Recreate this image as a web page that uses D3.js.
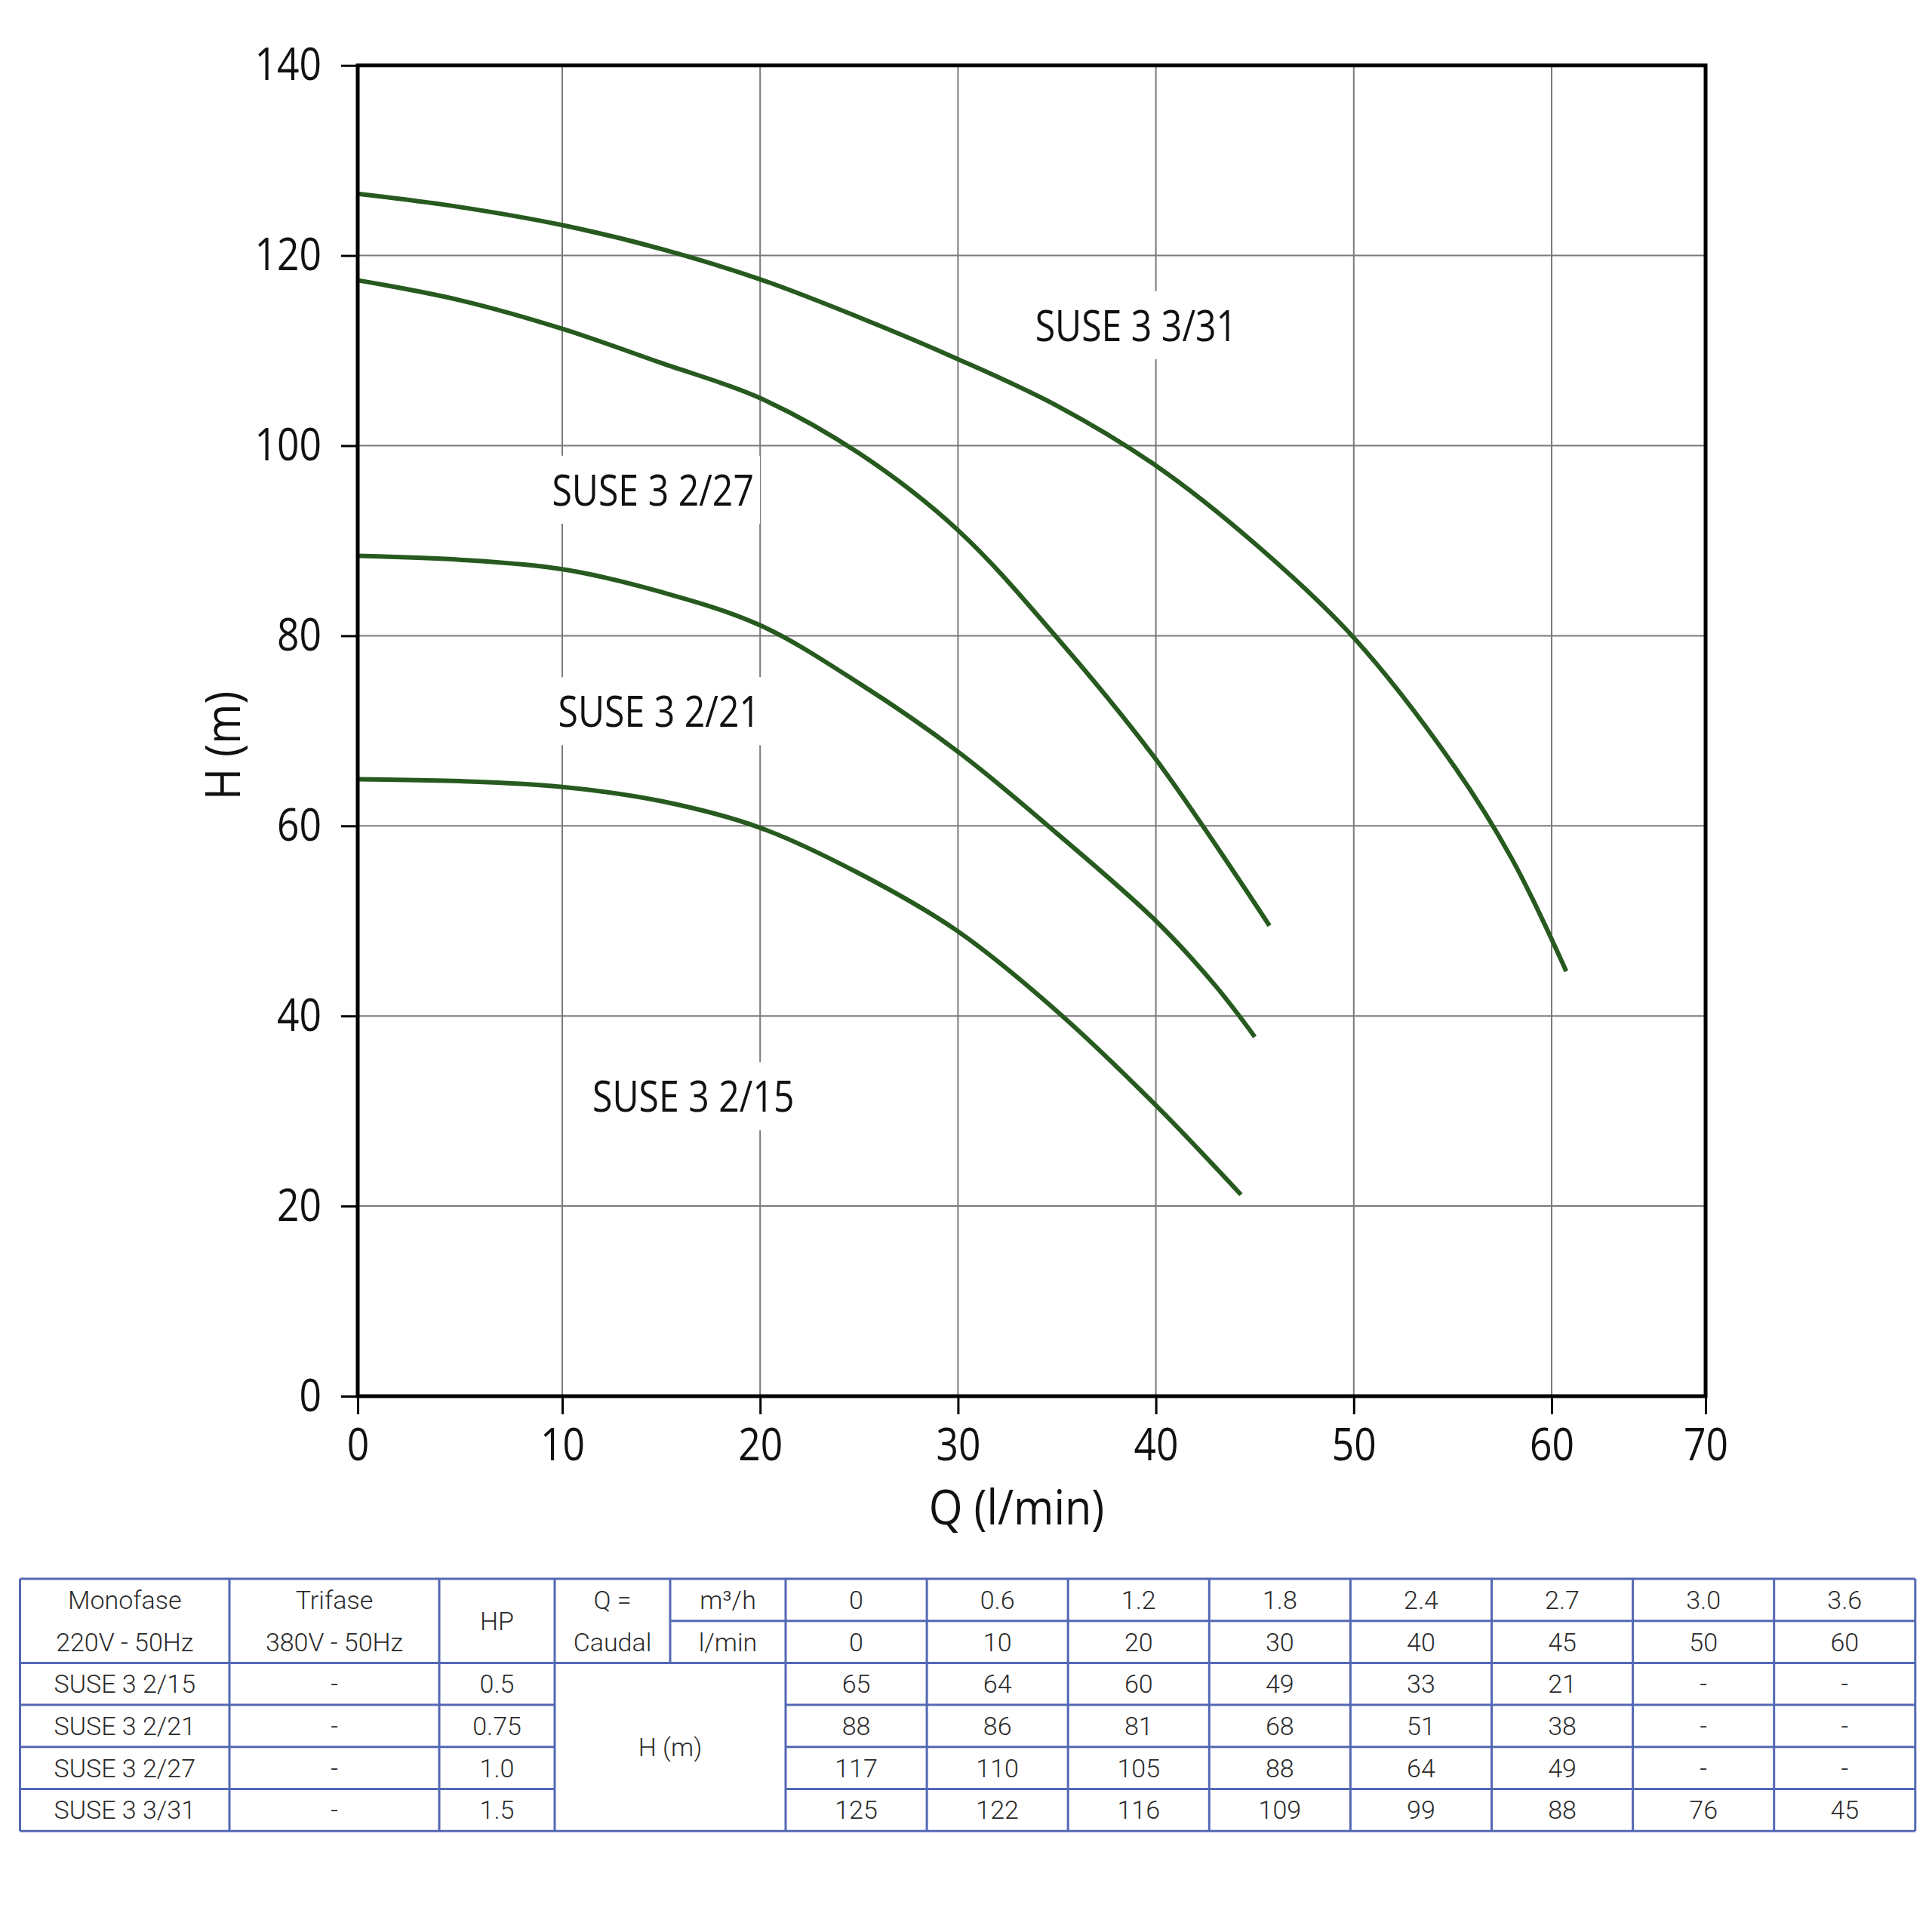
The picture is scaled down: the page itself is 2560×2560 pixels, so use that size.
<!DOCTYPE html>
<html><head><meta charset="utf-8">
<script src="https://cdn.jsdelivr.net/npm/d3@7"></script>
<style>html,body{margin:0;padding:0;background:#fff}</style>
</head><body>
<svg id="c" width="2560" height="2560" xmlns="http://www.w3.org/2000/svg"></svg>
<script>
// ---------- chart data ----------
const xTicks = [0, 10, 20, 30, 40, 50, 60, 70];
const yTicks = [0, 20, 40, 60, 80, 100, 120, 140];
const xGrid = [10, 20, 30, 40, 50, 60];
const yGrid = [20, 40, 60, 80, 100, 120];

const q_2_15 = [0, 5, 10, 15, 20, 25, 30, 35, 40, 44.3];
const h_2_15 = [64.9, 64.7, 64.1, 62.6, 59.8, 55.0, 48.9, 40.5, 30.6, 21.2];
const q_2_21 = [0, 5, 10, 15, 20, 25, 30, 35, 40, 43, 45];
const h_2_21 = [88.4, 88.0, 87.0, 84.6, 81.1, 75.0, 67.8, 59.2, 50.0, 43.2, 37.8];
const q_2_27 = [0, 5, 10, 15, 20, 25, 30, 35, 40, 45.74];
const h_2_27 = [117.4, 115.3, 112.3, 108.7, 105.0, 99.2, 91.1, 79.8, 67.0, 49.5];
const q_3_31 = [0, 5, 10, 15, 20, 25, 30, 35, 40, 45, 50, 55, 58, 60.95];
const h_3_31 = [126.5, 125.1, 123.2, 120.7, 117.5, 113.5, 109.1, 104.2, 97.9, 89.7, 79.8, 66.5, 56.5, 44.7];

const seriesNames = ["SUSE 3 2/15", "SUSE 3 2/21", "SUSE 3 2/27", "SUSE 3 3/31"];
const seriesQ = [q_2_15, q_2_21, q_2_27, q_3_31];
const seriesH = [h_2_15, h_2_21, h_2_27, h_3_31];
const labelQ = [11.53, 9.8, 9.5, 33.9];
const labelH = [29.9, 70.4, 93.7, 111.0];

const xTitle = "Q (l/min)";
const yTitle = "H (m)";

// ---------- table data ----------
const headMono = ["Monofase", "220V - 50Hz"];
const headTri = ["Trifase", "380V - 50Hz"];
const headHP = "HP";
const headQ = ["Q =", "Caudal"];
const headUnits = ["m³/h", "l/min"];
const headH = "H (m)";
const flowM3h = ["0", "0.6", "1.2", "1.8", "2.4", "2.7", "3.0", "3.6"];
const flowLmin = ["0", "10", "20", "30", "40", "45", "50", "60"];
const tModels = ["SUSE 3 2/15", "SUSE 3 2/21", "SUSE 3 2/27", "SUSE 3 3/31"];
const tTrifase = ["-", "-", "-", "-"];
const tHP = ["0.5", "0.75", "1.0", "1.5"];
const tH_2_15 = ["65", "64", "60", "49", "33", "21", "-", "-"];
const tH_2_21 = ["88", "86", "81", "68", "51", "38", "-", "-"];
const tH_2_27 = ["117", "110", "105", "88", "64", "49", "-", "-"];
const tH_3_31 = ["125", "122", "116", "109", "99", "88", "76", "45"];
const tH = [tH_2_15, tH_2_21, tH_2_27, tH_3_31];

// ---------- drawing ----------
(function () {
const svg = d3.select("#c");
svg.append("rect").attr("width", 2560).attr("height", 2560).attr("fill", "#fff");

const FONT = "'Open Sans', 'Noto Sans', sans-serif";
const SX = 0.86; // horizontal condense of the chart lettering
const x = d3.scaleLinear().domain([0, 10, 60, 70]).range([474, 745, 2056, 2260]);
const y = d3.scaleLinear().domain([0, 140]).range([1850, 86.7]);

const g = svg.append("g");

// grid
g.append("g").selectAll("line").data(xGrid).join("line")
  .attr("x1", d => x(d)).attr("x2", d => x(d))
  .attr("y1", y(0)).attr("y2", y(140))
  .attr("stroke", "#7a7a7a").attr("stroke-width", 2);
g.append("g").selectAll("line").data(yGrid).join("line")
  .attr("y1", d => y(d)).attr("y2", d => y(d))
  .attr("x1", x(0)).attr("x2", x(70))
  .attr("stroke", "#7a7a7a").attr("stroke-width", 2);

// series labels with white backing
const lab = g.append("g").selectAll("g").data(seriesNames).join("g");
lab.each(function (d, i) {
  const gg = d3.select(this);
  const t = gg.append("text")
    .attr("transform", `translate(${x(labelQ[i])},${y(labelH[i])}) scale(${SX},1)`)
    .attr("font-family", FONT).attr("font-size", 56).attr("fill", "#111")
    .text(d);
  const bb = t.node().getBBox();
  gg.insert("rect", "text")
    .attr("x", x(labelQ[i]) - 8)
    .attr("y", y(labelH[i]) + bb.y - 6)
    .attr("width", bb.width * SX + 16)
    .attr("height", bb.height + 14)
    .attr("fill", "#fff");
});

// curves
const line = d3.line().x(d => x(d[0])).y(d => y(d[1])).curve(d3.curveCatmullRom.alpha(0.5));
g.append("g").selectAll("path").data(seriesQ.map((qs, i) => qs.map((q, j) => [q, seriesH[i][j]])))
  .join("path")
  .attr("d", line)
  .attr("fill", "none").attr("stroke", "#275a1f").attr("stroke-width", 6)
  .attr("stroke-linecap", "butt").attr("stroke-linejoin", "round");

// axes
const yAxis = g.append("g").attr("transform", `translate(${x(0)},0)`)
  .call(d3.axisLeft(y).tickValues(yTicks).tickSize(22).tickPadding(26).tickFormat(d3.format("d")));
const xAxis = g.append("g").attr("transform", `translate(0,${y(0)})`)
  .call(d3.axisBottom(x).tickValues(xTicks).tickSize(24).tickPadding(18).tickFormat(d3.format("d")));
[yAxis, xAxis].forEach(a => {
  a.select(".domain").remove();
  a.selectAll(".tick line").attr("stroke", "#000").attr("stroke-width", 3);
  a.selectAll(".tick text").attr("font-family", FONT).attr("font-size", 60).attr("fill", "#111");
});
yAxis.selectAll(".tick text").each(function () {
  const t = d3.select(this);
  const xx = +t.attr("x");
  t.attr("x", xx / SX).attr("transform", `scale(${SX},1)`);
});
xAxis.selectAll(".tick text").attr("transform", `scale(${SX},1)`);

// frame
g.append("rect")
  .attr("x", x(0)).attr("y", y(140))
  .attr("width", x(70) - x(0)).attr("height", y(0) - y(140))
  .attr("fill", "none").attr("stroke", "#000").attr("stroke-width", 5);

// axis titles
g.append("text")
  .attr("transform", `translate(${(x(0) + x(70)) / 2 - 20},2020) scale(0.9,1)`)
  .attr("text-anchor", "middle").attr("font-family", FONT).attr("font-size", 64).attr("fill", "#111")
  .text(xTitle);
g.append("text")
  .attr("transform", `translate(318,988) rotate(-90) scale(0.9,1)`)
  .attr("text-anchor", "middle").attr("font-family", FONT).attr("font-size", 64).attr("fill", "#111")
  .text(yTitle);

// ---------- table ----------
const TF = "Roboto, 'Noto Sans', sans-serif";
const dataColW = 187.1;
const cols = [26.5, 304, 582, 735, 888, 1041].concat(flowM3h.map((_, i) => 1041 + dataColW * (i + 1)));
const rowH = 55.7;
const tTop = 2092;
const rows = d3.range(7).map(i => tTop + rowH * i);
const tLeft = cols[0], tRight = cols[cols.length - 1], tBottom = rows[6];
const tg = svg.append("g");
const LC = "#5468b4", LW = 3;
function hl(x1, x2, yy) { tg.append("line").attr("x1", x1).attr("x2", x2).attr("y1", yy).attr("y2", yy).attr("stroke", LC).attr("stroke-width", LW); }
function vl(xx, y1, y2) { tg.append("line").attr("x1", xx).attr("x2", xx).attr("y1", y1).attr("y2", y2).attr("stroke", LC).attr("stroke-width", LW); }

hl(tLeft, tRight, tTop); hl(tLeft, tRight, tBottom);
hl(cols[4], tRight, rows[1]);
hl(tLeft, tRight, rows[2]);
[3, 4, 5].forEach(r => { hl(tLeft, cols[3], rows[r]); hl(cols[5], tRight, rows[r]); });
vl(tLeft, tTop, tBottom); vl(tRight, tTop, tBottom);
[1, 2, 3, 5].forEach(c => vl(cols[c], tTop, tBottom));
vl(cols[4], tTop, rows[2]);
for (let c = 6; c < cols.length - 1; c++) vl(cols[c], tTop, tBottom);

function cell(txt, cx, cy) {
  tg.append("text").attr("x", cx).attr("y", cy + 12)
    .attr("text-anchor", "middle").attr("font-family", TF).attr("font-weight", 300)
    .attr("font-size", 34).attr("fill", "#2a2a2a").text(txt);
}
const mid = (a, b) => (a + b) / 2;
headMono.forEach((t, i) => cell(t, mid(cols[0], cols[1]), mid(rows[i], rows[i + 1])));
headTri.forEach((t, i) => cell(t, mid(cols[1], cols[2]), mid(rows[i], rows[i + 1])));
cell(headHP, mid(cols[2], cols[3]), rows[1]);
headQ.forEach((t, i) => cell(t, mid(cols[3], cols[4]), mid(rows[i], rows[i + 1])));
headUnits.forEach((t, i) => cell(t, mid(cols[4], cols[5]), mid(rows[i], rows[i + 1])));
flowM3h.forEach((t, j) => cell(t, mid(cols[5 + j], cols[6 + j]), mid(rows[0], rows[1])));
flowLmin.forEach((t, j) => cell(t, mid(cols[5 + j], cols[6 + j]), mid(rows[1], rows[2])));
cell(headH, mid(cols[3], cols[5]), mid(rows[2], rows[6]));
tModels.forEach((m, i) => {
  const cy = mid(rows[2 + i], rows[3 + i]);
  cell(m, mid(cols[0], cols[1]), cy);
  cell(tTrifase[i], mid(cols[1], cols[2]), cy);
  cell(tHP[i], mid(cols[2], cols[3]), cy);
  tH[i].forEach((v, j) => cell(v, mid(cols[5 + j], cols[6 + j]), cy));
});
})();
</script>
</body></html>
